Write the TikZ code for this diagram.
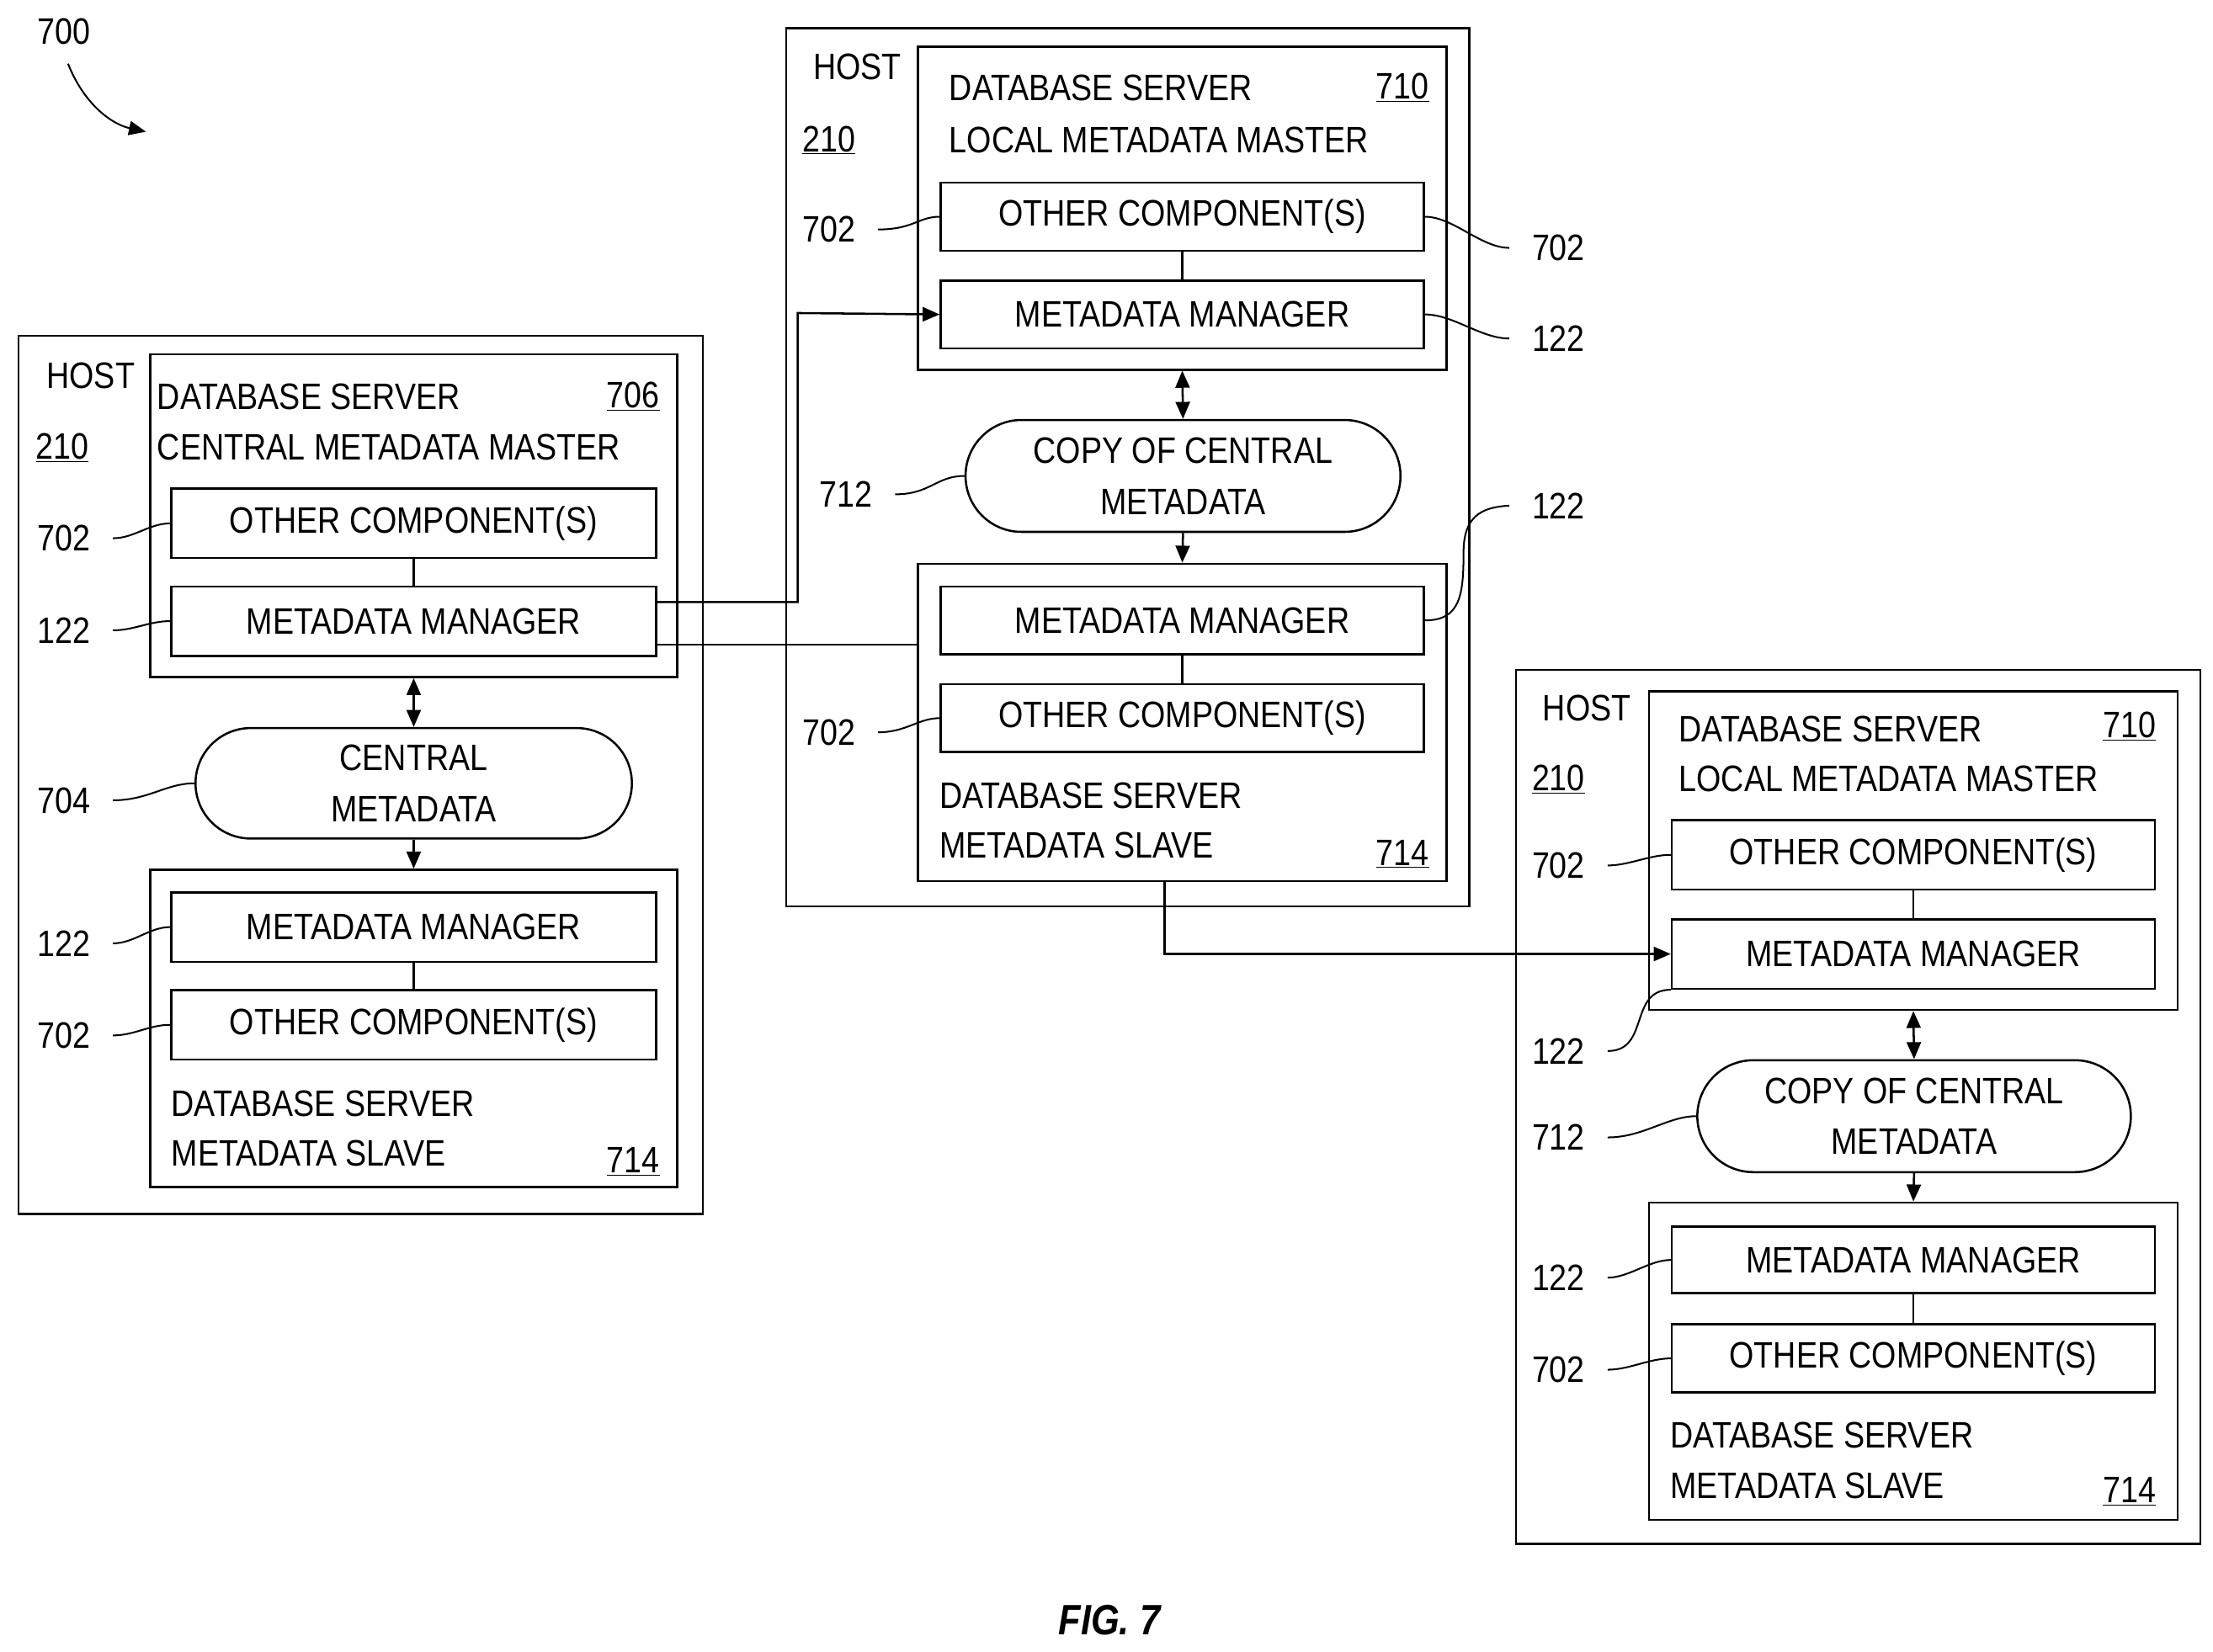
\documentclass[tikz,border=0pt]{standalone}
\usepackage{fontspec}
\setmainfont{Liberation Sans}[FakeStretch=0.86]
\usetikzlibrary{fit,shapes.misc,arrows.meta}
\begin{document}
\begin{tikzpicture}[x=1pt,y=-1pt,line width=1.5pt,
  every node/.style={font=\fontsize{26}{30}\selectfont},
  bx/.style={draw,inner sep=0pt},
  st/.style={draw,rounded rectangle,align=center,inner sep=0pt,font=\fontsize{26}{36}\selectfont},
  lb/.style={anchor=center},
  ld/.style={line width=1.2pt},
  ar/.style={-{Triangle[length=12pt,width=10pt]}},
  dar/.style={{Triangle[length=12pt,width=10pt]}-{Triangle[length=12pt,width=10pt]}}]
\useasboundingbox (0,0) rectangle (1562,1166);
\fill[white] (0,0) rectangle (1562,1166);
% 700
\node[lb] (n700) at (45,22) {700};
\coordinate (a700) at (103,93);
\draw[ar,line width=1.2pt] (48,45) .. controls (60,75) and (80,88) .. (a700);
% ---------- Left host
\node[bx,fit={(13,237) (496,857)}] (hL) {};
\node[lb] at (64,265) {HOST};
\node[lb] at (44,316) {\underline{210}};
\node[bx,fit={(106,250) (478,478)}] (dL) {};
\node[anchor=west] at (107,280) {DATABASE SERVER};
\node[lb] at (447,280) {\underline{706}};
\node[anchor=west] at (107,316) {CENTRAL METADATA MASTER};
\node[bx,fit={(121,345) (463,394)},label=center:{OTHER COMPONENT(S)}] (ocL) {};
\node[bx,fit={(121,414) (463,463)},label=center:{METADATA MANAGER}] (mmL) {};
\draw (ocL) -- (mmL);
\node[lb] (l1) at (45,380) {702};
\node[lb] (l2) at (45,445) {122};
\draw[ld] (l1.east)++(12,0) .. controls +(15,0) and +(-15,0) .. (ocL.west);
\draw[ld] (l2.east)++(12,0) .. controls +(15,0) and +(-15,0) .. (mmL.west);
\node[st,minimum width=308,minimum height=78] (cm) at (292,553) {CENTRAL\\METADATA};
\node[lb] (l3) at (45,565) {704};
\draw[ld] (l3.east)++(12,0) .. controls +(25,0) and +(-20,0) .. (cm.west);
\draw[dar] (dL.south) -- (cm.north);
\node[bx,fit={(106,614) (478,838)}] (sL) {};
\draw[ar] (cm.south) -- (sL.north);
\node[bx,fit={(121,630) (463,679)},label=center:{METADATA MANAGER}] (mmL2) {};
\node[bx,fit={(121,699) (463,748)},label=center:{OTHER COMPONENT(S)}] (ocL2) {};
\draw (mmL2) -- (ocL2);
\node[anchor=west] at (117,779) {DATABASE SERVER};
\node[anchor=west] at (117,814) {METADATA SLAVE};
\node[lb] at (447,820) {\underline{714}};
\node[lb] (l4) at (45,666) {122};
\node[lb] (l5) at (45,731) {702};
\draw[ld] (l4.east)++(12,0) .. controls +(15,0) and +(-15,0) .. (mmL2.west);
\draw[ld] (l5.east)++(12,0) .. controls +(15,0) and +(-15,0) .. (ocL2.west);
% ---------- Middle host
\node[bx,fit={(555,20) (1037,640)}] (hM) {};
\node[lb] at (605,47) {HOST};
\node[lb] at (585,99) {\underline{210}};
\node[bx,fit={(648,33) (1021,261)}] (dM) {};
\node[anchor=west] at (666,62) {DATABASE SERVER};
\node[lb] at (990,62) {\underline{710}};
\node[anchor=west] at (666,99) {LOCAL METADATA MASTER};
\node[bx,fit={(664,129) (1005,177)},label=center:{OTHER COMPONENT(S)}] (ocM) {};
\node[bx,fit={(664,198) (1005,246)},label=center:{METADATA MANAGER}] (mmM) {};
\draw (ocM) -- (mmM);
\node[lb] (m1) at (585,162) {702};
\node[lb] (m2) at (1100,175) {702};
\node[lb] (m3) at (1100,239) {122};
\draw[ld] (m1.east)++(12,0) .. controls +(25,0) and +(-15,0) .. (ocM.west);
\draw[ld] (ocM.east) .. controls +(20,0) and +(-20,0) .. ([xshift=-12pt]m2.west);
\draw[ld] (mmM.east) .. controls +(20,0) and +(-20,0) .. ([xshift=-12pt]m3.west);
\node[st,minimum width=307,minimum height=79] (cc1) at (835,336) {COPY OF CENTRAL\\METADATA};
\node[lb] (m4) at (597,349) {712};
\draw[ld] (m4.east)++(12,0) .. controls +(25,0) and +(-20,0) .. (cc1.west);
\draw[dar] (dM.south) -- (cc1.north);
\node[bx,fit={(648,398) (1021,622)}] (sM) {};
\draw[ar] (cc1.south) -- (sM.north);
\node[bx,fit={(664,414) (1005,462)},label=center:{METADATA MANAGER}] (mmM2) {};
\node[bx,fit={(664,483) (1005,531)},label=center:{OTHER COMPONENT(S)}] (ocM2) {};
\draw (mmM2) -- (ocM2);
\node[anchor=west] at (659,562) {DATABASE SERVER};
\node[anchor=west] at (659,597) {METADATA SLAVE};
\node[lb] at (990,603) {\underline{714}};
\node[lb] (m5) at (1100,357) {122};
\node[lb] (m6) at (585,517) {702};
\draw[ld] (mmM2.east) .. controls +(25,0) and +(0,30) .. (1033,390) .. controls (1033,365) and (1045,358) .. ([xshift=-12pt]m5.west);
\draw[ld] (m6.east)++(12,0) .. controls +(20,0) and +(-15,0) .. (ocM2.west);
% ---------- Right host
\node[bx,fit={(1070,473) (1553,1090)}] (hR) {};
\node[lb] at (1120,500) {HOST};
\node[lb] at (1100,550) {\underline{210}};
\node[bx,fit={(1164,488) (1537,713)}] (dR) {};
\node[anchor=west] at (1181,515) {DATABASE SERVER};
\node[lb] at (1503,513) {\underline{710}};
\node[anchor=west] at (1181,550) {LOCAL METADATA MASTER};
\node[bx,fit={(1180,579) (1521,628)},label=center:{OTHER COMPONENT(S)}] (ocR) {};
\node[bx,fit={(1180,649) (1521,698)},label=center:{METADATA MANAGER}] (mmR) {};
\draw (ocR) -- (mmR);
\node[lb] (r1) at (1100,611) {702};
\node[lb] (r2) at (1100,742) {122};
\draw[ld] (r1.east)++(12,0) .. controls +(15,0) and +(-15,0) .. (ocR.west);
\draw[ld] (r2.east)++(12,0) .. controls +(30,0) and +(-30,0) .. (mmR.south west);
\node[st,minimum width=306,minimum height=79] (cc2) at (1351,788) {COPY OF CENTRAL\\METADATA};
\node[lb] (r3) at (1100,803) {712};
\draw[ld] (r3.east)++(12,0) .. controls +(25,0) and +(-20,0) .. (cc2.west);
\draw[dar] (dR.south) -- (cc2.north);
\node[bx,fit={(1164,849) (1537,1073)}] (sR) {};
\draw[ar] (cc2.south) -- (sR.north);
\node[bx,fit={(1180,866) (1521,913)},label=center:{METADATA MANAGER}] (mmR2) {};
\node[bx,fit={(1180,935) (1521,983)},label=center:{OTHER COMPONENT(S)}] (ocR2) {};
\draw (mmR2) -- (ocR2);
\node[anchor=west] at (1175,1013) {DATABASE SERVER};
\node[anchor=west] at (1175,1049) {METADATA SLAVE};
\node[lb] at (1503,1053) {\underline{714}};
\node[lb] (r4) at (1100,902) {122};
\node[lb] (r5) at (1100,967) {702};
\draw[ld] (r4.east)++(12,0) .. controls +(15,0) and +(-15,0) .. (mmR2.west);
\draw[ld] (r5.east)++(12,0) .. controls +(15,0) and +(-15,0) .. (ocR2.west);
% ---------- Connectors
\draw[ar] (mmL.east |- {(0,425)}) -| (563,221) -- (mmM.west);
\draw (mmL.east |- {(0,455)}) -- (sM.west |- {(0,455)});
\draw[ar] (sM.south -| {(822,0)}) |- (mmR.west);
% caption
\node[font=\fontsize{30}{34}\selectfont\bfseries\itshape] (fig) at (783,1144) {FIG. 7};
\end{tikzpicture}
\end{document}
